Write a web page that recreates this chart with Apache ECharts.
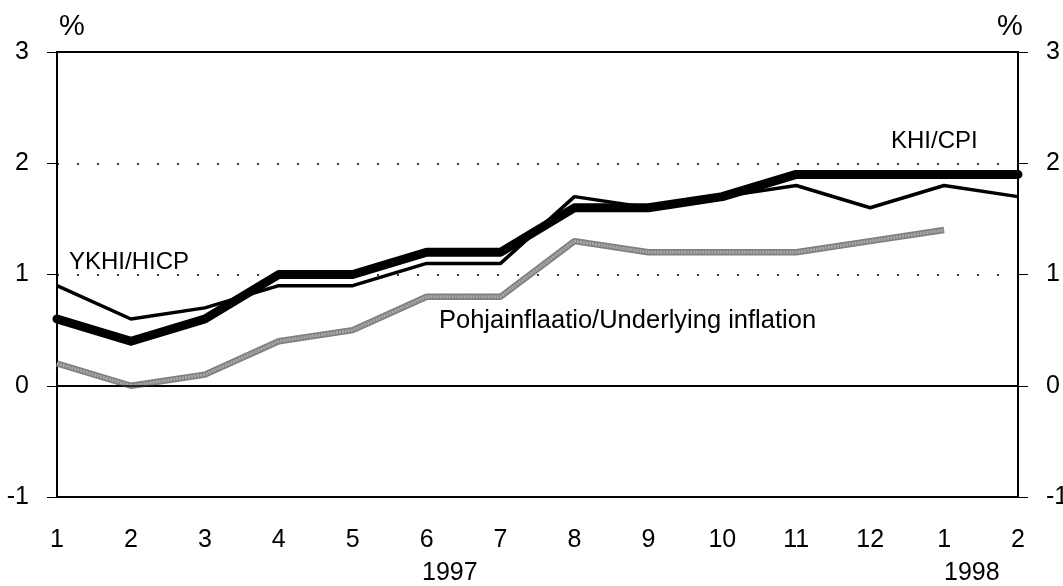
<!DOCTYPE html>
<html>
<head>
<meta charset="utf-8">
<script src="https://cdn.jsdelivr.net/npm/echarts@6/dist/echarts.min.js"></script>
<style>
html,body{margin:0;padding:0;background:#fff;}
#chart{width:1063px;height:586px;}
</style>
</head>
<body>
<div id="chart"></div>
<script>
const months = ['1','2','3','4','5','6','7','8','9','10','11','12','1','2'];
const khiCpi = [0.6, 0.4, 0.6, 1.0, 1.0, 1.2, 1.2, 1.6, 1.6, 1.7, 1.9, 1.9, 1.9, 1.9];
const ykhiHicp = [0.9, 0.6, 0.7, 0.9, 0.9, 1.1, 1.1, 1.7, 1.6, 1.7, 1.8, 1.6, 1.8, 1.7];
const underlying = [0.2, 0.0, 0.1, 0.4, 0.5, 0.8, 0.8, 1.3, 1.2, 1.2, 1.2, 1.3, 1.4, null];
const yTicks = [-1, 0, 1, 2, 3];

const FONT = '"Liberation Sans", Arial, sans-serif';
const chart = echarts.init(document.getElementById('chart'));

const yAxisBase = {
  type: 'value', min: yTicks[0], max: yTicks[yTicks.length - 1], interval: 1,
  axisLine: { show: true, lineStyle: { color: '#000', width: 2 } },
  axisTick: { show: true, length: 10, lineStyle: { color: '#000', width: 1 } },
  axisLabel: { color: '#000', fontSize: 25, fontFamily: FONT, margin: 28 }
};

chart.setOption({
  animation: false,
  backgroundColor: '#fff',
  grid: { left: 57, right: 45, top: 52, bottom: 89, outerBoundsMode: 'none', containLabel: false,
          show: true, borderColor: '#000', borderWidth: 2, backgroundColor: 'transparent' },
  xAxis: {
    type: 'category', data: months, boundaryGap: false,
    axisLine: { show: true, lineStyle: { color: '#000', width: 2 } },
    axisTick: { show: false },
    axisLabel: { color: '#000', fontSize: 25, fontFamily: FONT, margin: 31, interval: 0 },
    splitLine: { show: false }
  },
  yAxis: [
    Object.assign({}, yAxisBase, {
      position: 'left',
      splitLine: { show: true, lineStyle: { color: '#000', width: 1.5, type: [2, 18] } }
    }),
    Object.assign({}, yAxisBase, {
      position: 'right',
      splitLine: { show: false }
    })
  ],
  series: [
    {
      name: 'Pohjainflaatio/Underlying inflation', type: 'line', data: underlying,
      showSymbol: false, symbol: 'none',
      lineStyle: { color: '#808080', width: 6.5 },
      markLine: {
        silent: true, symbol: 'none', label: { show: false },
        lineStyle: { color: '#000', width: 1.5, type: 'solid' },
        data: [{ yAxis: 0 }]
      },
      z: 2
    },
    {
      name: 'underlying-core', type: 'line', data: underlying,
      showSymbol: false, symbol: 'none',
      lineStyle: { color: '#a9a9a9', width: 3, type: [2, 1] },
      z: 2
    },
    {
      name: 'YKHI/HICP', type: 'line', data: ykhiHicp,
      showSymbol: false, symbol: 'none',
      lineStyle: { color: '#000', width: 3.5 },
      z: 3
    },
    {
      name: 'KHI/CPI', type: 'line', data: khiCpi,
      showSymbol: false, symbol: 'none',
      lineStyle: { color: '#000', width: 9, cap: 'round', join: 'round' },
      z: 4
    }
  ],
  graphic: [
    { type: 'text', left: 59, top: 12, style: { text: '%', fill: '#000', font: '29px ' + FONT } },
    { type: 'text', left: 997, top: 12, style: { text: '%', fill: '#000', font: '29px ' + FONT } },
    { type: 'text', left: 69, top: 250, style: { text: 'YKHI/HICP', fill: '#000', font: '24px ' + FONT } },
    { type: 'text', left: 891, top: 129, style: { text: 'KHI/CPI', fill: '#000', font: '24px ' + FONT } },
    { type: 'text', left: 439, top: 308, style: { text: 'Pohjainflaatio/Underlying inflation', fill: '#000', font: '25.5px ' + FONT } },
    { type: 'text', left: 422, top: 561, style: { text: '1997', fill: '#000', font: '25px ' + FONT } },
    { type: 'text', left: 944, top: 561, style: { text: '1998', fill: '#000', font: '25px ' + FONT } }
  ]
});
</script>
</body>
</html>
